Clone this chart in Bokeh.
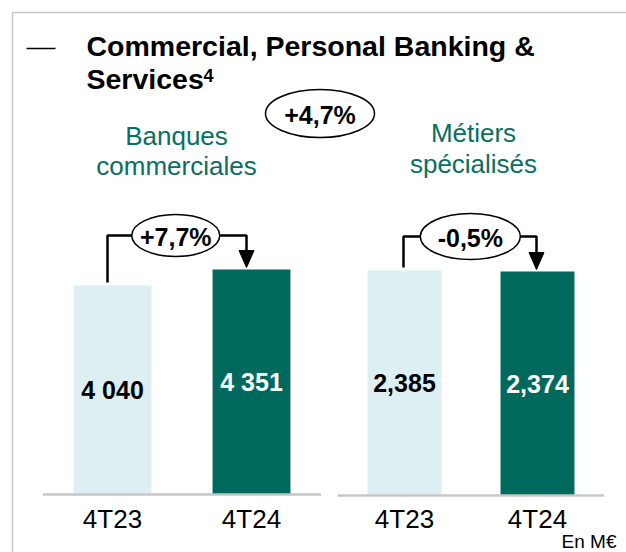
from bokeh.plotting import figure
from bokeh.models import Range1d
from bokeh.core.properties import value
from bokeh.embed import file_html
from bokeh.resources import INLINE

# ---------------- data ----------------
title_line1 = "Commercial, Personal Banking &"
title_line2 = "Services"
title_note = "4"
quarters = ["4T23", "4T24"]
banques_name = ["Banques", "commerciales"]
metiers_name = ["Métiers", "spécialisés"]
banques = [4040, 4351]
metiers = [2385, 2374]
banques_text = ["4 040", "4 351"]
metiers_text = ["2,385", "2,374"]
banques_change = "+7,7%"
metiers_change = "-0,5%"
total_change = "+4,7%"
unit_note = "En M€"

# ---------------- style ----------------
LIGHT = "#DDEFF2"
DARK = "#00695E"
GREEN_TEXT = "#0A6E60"
GRID_GREY = "#C6C6C6"
FONT = value("Liberation Sans")

W, H = 626, 552
X0, Y0 = 0, 0  # default ranges work in page pixels (y downward)

p = figure(width=W, height=H, title=None,
           x_range=Range1d(X0, X0 + W), y_range=Range1d(Y0 + H, Y0),
           x_axis_location=None, y_axis_location=None,
           output_backend="svg", toolbar_location=None,
           min_border=0, outline_line_color=None,
           background_fill_color="white", border_fill_color="white")
p.grid.visible = False

# panel layouts: first bar centre (px), bar spacing (px), baseline (px), px per value unit
panels = [
    dict(name="b", vals=banques, labels=banques_text, change=banques_change,
         head=banques_name, c0=112, u=139, base=494, k=225 / 4351, bw=0.56,
         off=5, ell_x=0.455, ell_w=88, ell_h=42, head_x=176, head_y=(135.5, 165.7)),
    dict(name="m", vals=metiers, labels=metiers_text, change=metiers_change,
         head=metiers_name, c0=404, u=133, base=495, k=225 / 2385, bw=0.556,
         off=1, ell_x=0.495, ell_w=100, ell_h=46, head_x=473, head_y=(132.7, 163.7)),
]

extra_x, extra_y = {}, {}
for pn in panels:
    extra_x[pn["name"] + "x"] = Range1d((X0 - pn["c0"]) / pn["u"], (X0 + W - pn["c0"]) / pn["u"])
    extra_y[pn["name"] + "y"] = Range1d(-(Y0 + H - pn["base"]) / pn["k"], (pn["base"] - Y0) / pn["k"])
p.extra_x_ranges = extra_x
p.extra_y_ranges = extra_y

# frame lines
p.line(x=[12, 12], y=[12, Y0 + H], line_color=GRID_GREY, line_width=1.5)
p.line(x=[12, X0 + W], y=[12, 12], line_color=GRID_GREY, line_width=1.5)
p.line(x=[26, 55], y=[48, 48], line_color="black", line_width=1.3)

# title
p.text(x=[86], y=[45.5], text=[title_line1], text_font=FONT, text_font_style="bold",
       text_font_size="28.5px", text_color="black", text_align="left", text_baseline="middle")
p.text(x=[86], y=[78.5], text=[title_line2], text_font=FONT, text_font_style="bold",
       text_font_size="28.5px", text_color="black", text_align="left", text_baseline="middle")
p.text(x=[203], y=[75], text=[title_note], text_font=FONT, text_font_style="bold",
       text_font_size="18px", text_color="black", text_align="left", text_baseline="middle")

# total growth bubble
p.ellipse(x=[319.5], y=[113], width=[109], height=[48], width_units="screen", height_units="screen",
          fill_color="white", line_color="black", line_width=1.5)
p.text(x=[319.5], y=[114], text=[total_change], text_font=FONT, text_font_style="bold",
       text_font_size="25px", text_color="black", text_align="center", text_baseline="middle")

for pn in panels:
    xr, yr = pn["name"] + "x", pn["name"] + "y"
    vals, k, u = pn["vals"], pn["k"], pn["u"]
    idx = list(range(len(quarters)))

    # panel heading
    for line_txt, hy in zip(pn["head"], pn["head_y"]):
        p.text(x=[pn["head_x"]], y=[hy], text=[line_txt], text_font=FONT, text_font_size="26px",
               text_color=GREEN_TEXT, text_align="center", text_baseline="middle")

    # bars
    p.vbar(x=idx, top=vals, bottom=0, width=pn["bw"], fill_color=[LIGHT, DARK], line_color=None,
           x_range_name=xr, y_range_name=yr)
    # baseline
    p.line(x=[-0.5, len(quarters) - 0.5], y=[0, 0], line_color=GRID_GREY, line_width=2.5,
           x_range_name=xr, y_range_name=yr)
    # value labels
    p.text(x=idx, y=[v / 2 for v in vals], text=pn["labels"], text_font=FONT, text_font_style="bold",
           text_font_size="25px", text_color=["black", "white"], text_align="center",
           text_baseline="middle", x_range_name=xr, y_range_name=yr)
    # category labels
    p.text(x=idx, y=[518] * len(idx), text=quarters, text_font=FONT, text_font_size="26px",
           text_color="black", text_align="center", text_baseline="middle", x_range_name=xr)

    # growth connector
    off = pn["off"] / u
    level = max(vals) + 34 / k
    tip = vals[1] + 2 / k
    head_base = tip + 17 / k
    p.line(x=[0 - off, 0 - off, 1 - off, 1 - off],
           y=[vals[0] + 3 / k, level, level, head_base],
           line_color="black", line_width=2.5, x_range_name=xr, y_range_name=yr)
    p.patch(x=[1 - off - 7.5 / u, 1 - off + 7.5 / u, 1 - off], y=[head_base, head_base, tip],
            fill_color="black", line_color="black", line_width=1, x_range_name=xr, y_range_name=yr)
    p.ellipse(x=[pn["ell_x"]], y=[level], width=[pn["ell_w"]], height=[pn["ell_h"]],
              width_units="screen", height_units="screen", fill_color="white",
              line_color="black", line_width=1.5, x_range_name=xr, y_range_name=yr)
    p.text(x=[pn["ell_x"]], y=[level - 1.5 / k], text=[pn["change"]], text_font=FONT,
           text_font_style="bold", text_font_size="25px", text_color="black",
           text_align="center", text_baseline="middle", x_range_name=xr, y_range_name=yr)

# unit note
p.text(x=[616], y=[541], text=[unit_note], text_font=FONT, text_font_size="19px",
       text_color="black", text_align="right", text_baseline="middle")

open("out.html", "w").write(file_html(p, INLINE))
